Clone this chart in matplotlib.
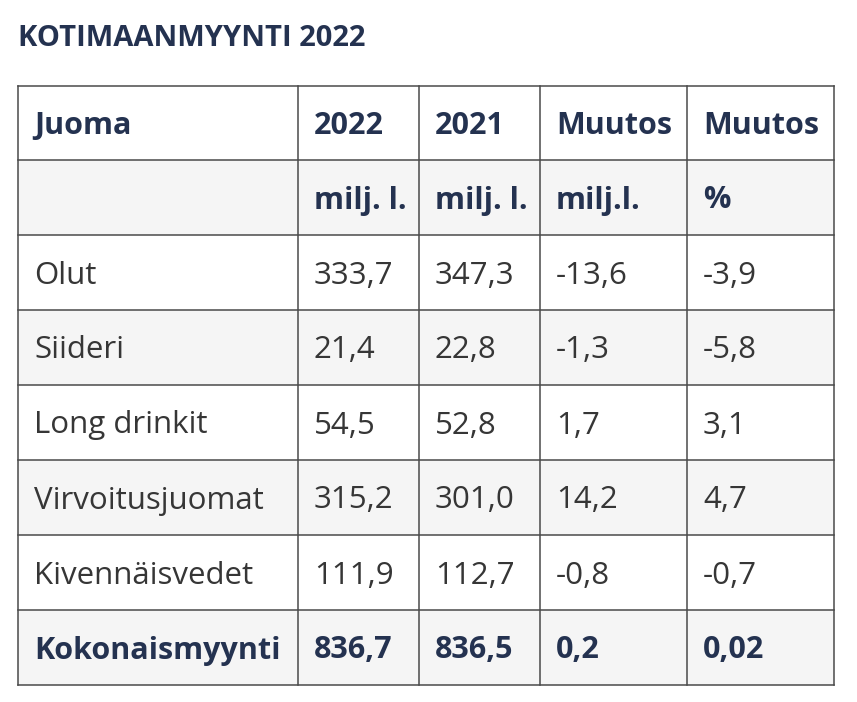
import matplotlib.pyplot as plt
from matplotlib.patches import Rectangle

# Table content
title = "KOTIMAANMYYNTI 2022"
header = ["Juoma", "2022", "2021", "Muutos", "Muutos"]
units = ["", "milj. l.", "milj. l.", "milj.l.", "%"]
drinks = ["Olut", "Siideri", "Long drinkit", "Virvoitusjuomat", "Kivennäisvedet"]
sales_2022 = ["333,7", "21,4", "54,5", "315,2", "111,9"]
sales_2021 = ["347,3", "22,8", "52,8", "301,0", "112,7"]
change_ml = ["-13,6", "-1,3", "1,7", "14,2", "-0,8"]
change_pct = ["-3,9", "-5,8", "3,1", "4,7", "-0,7"]
total = ["Kokonaismyynti", "836,7", "836,5", "0,2", "0,02"]

W, H = 857, 702
fig = plt.figure(figsize=(W / 100, H / 100), dpi=100)
ax = fig.add_axes([0, 0, 1, 1])
ax.set_xlim(0, W)
ax.set_ylim(H, 0)
ax.axis("off")

navy = "#243250"
body = "#363636"
grey_fill = "#f5f5f5"
line_c = "#4a4a4a"
font = "Open Sans"

col_x = [18, 298, 419, 540, 687, 834]
row_y = [86, 160, 235, 310, 385, 460, 535, 610, 685]

ax.text(18, 38, title, fontsize=21, fontweight="bold", color=navy,
        family=font, va="center", ha="left")

rows = [(header, True), (units, True)]
for i in range(len(drinks)):
    rows.append(([drinks[i], sales_2022[i], sales_2021[i], change_ml[i], change_pct[i]], False))
rows.append((total, True))

for r, (cells, bold) in enumerate(rows):
    y0, y1 = row_y[r], row_y[r + 1]
    fill = "white" if r % 2 == 0 else grey_fill
    ax.add_patch(Rectangle((col_x[0], y0), col_x[-1] - col_x[0], y1 - y0,
                           facecolor=fill, edgecolor="none", zorder=0))
    for c, txt in enumerate(cells):
        ax.text(col_x[c] + 16, (y0 + y1) / 2 + 3, txt,
                fontsize=22 if bold else 22.5,
                fontweight="bold" if bold else "normal",
                color=navy if bold else body, family=font,
                va="center", ha="left")

# grid lines
for x in col_x:
    ax.plot([x, x], [row_y[0], row_y[-1]], color=line_c, lw=1.1, zorder=2)
for y in row_y:
    ax.plot([col_x[0], col_x[-1]], [y, y], color=line_c, lw=1.1, zorder=2)

fig.savefig("out.png", dpi=100, facecolor="white")
